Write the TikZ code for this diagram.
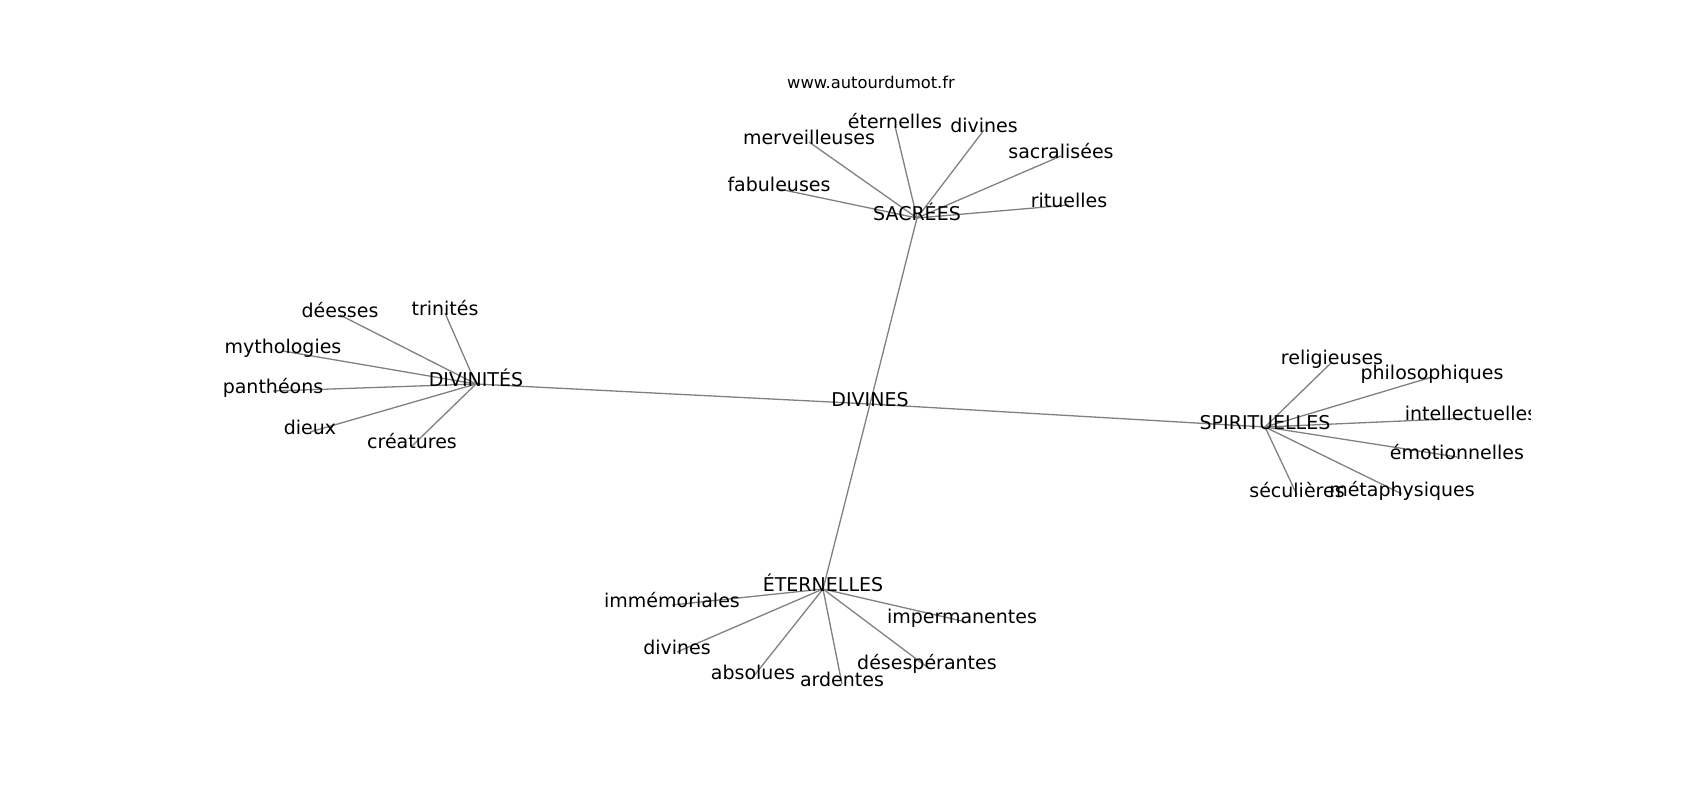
\documentclass[tikz,border=0pt]{standalone}
\usepackage{fontspec}
\setmainfont{DejaVu Sans}
\usetikzlibrary{backgrounds}
\begin{document}
\begin{tikzpicture}[x=1pt,y=-1pt,
  lbl/.style={inner sep=0pt,anchor=center,font=\fontsize{19}{22}\selectfont,text height=0.73em,text depth=0.21em},
  ttl/.style={inner sep=0pt,anchor=center,font=\fontsize{16.3}{19}\selectfont,text height=0.73em,text depth=0em},
  edge/.style={draw=black!50,line width=1.3pt}]
\useasboundingbox (0,-2) rectangle (1700,798);
\node[ttl] (title) at (871,83) {www.autourdumot.fr};
\node[lbl] (divines) at (870,402) {DIVINES};
\node[lbl] (sacrees) at (917,216) {SACRÉES};
\node[lbl] (fabuleuses) at (779,187) {fabuleuses};
\node[lbl] (merveilleuses) at (809,140) {merveilleuses};
\node[lbl] (eternellesA) at (895,124) {éternelles};
\node[lbl] (divinesA) at (984,128) {divines};
\node[lbl] (sacralisees) at (1061,154) {sacralisées};
\node[lbl] (rituelles) at (1069,203) {rituelles};
\node[lbl] (divinites) at (476,382) {DIVINITÉS};
\node[lbl] (deesses) at (340,313) {déesses};
\node[lbl] (trinites) at (445,311) {trinités};
\node[lbl] (mythologies) at (283,349) {mythologies};
\node[lbl] (pantheons) at (273,389) {panthéons};
\node[lbl] (dieux) at (310,430) {dieux};
\node[lbl] (creatures) at (412,444) {créatures};
\node[lbl] (spirituelles) at (1265,425) {SPIRITUELLES};
\node[lbl] (religieuses) at (1332,360) {religieuses};
\node[lbl] (philosophiques) at (1432,375) {philosophiques};
\begin{scope}
\clip (0,0) rectangle (1530,800);
\node[lbl] (intellectuelles) at (1471,416) {intellectuelles};
\end{scope}
\node[lbl] (emotionnelles) at (1457,455) {émotionnelles};
\node[lbl] (metaphysiques) at (1402,492) {métaphysiques};
\node[lbl] (seculieres) at (1297,493) {séculières};
\node[lbl] (eternelles) at (823,587) {ÉTERNELLES};
\node[lbl] (immemoriales) at (672,603) {immémoriales};
\node[lbl] (impermanentes) at (962,619) {impermanentes};
\node[lbl] (divinesB) at (677,650) {divines};
\node[lbl] (absolues) at (753,675) {absolues};
\node[lbl] (ardentes) at (842,682) {ardentes};
\node[lbl] (desesperantes) at (927,665) {désespérantes};
\begin{scope}[on background layer]
\foreach \a/\b in {divines/sacrees,divines/divinites,divines/spirituelles,divines/eternelles,
  sacrees/fabuleuses,sacrees/merveilleuses,sacrees/eternellesA,sacrees/divinesA,sacrees/sacralisees,sacrees/rituelles,
  divinites/deesses,divinites/trinites,divinites/mythologies,divinites/pantheons,divinites/dieux,divinites/creatures,
  spirituelles/religieuses,spirituelles/philosophiques,spirituelles/intellectuelles,spirituelles/emotionnelles,spirituelles/metaphysiques,spirituelles/seculieres,
  eternelles/immemoriales,eternelles/impermanentes,eternelles/divinesB,eternelles/absolues,eternelles/ardentes,eternelles/desesperantes}
  \draw[edge] (\a.center) -- (\b.center);
\end{scope}
\end{tikzpicture}
\end{document}
